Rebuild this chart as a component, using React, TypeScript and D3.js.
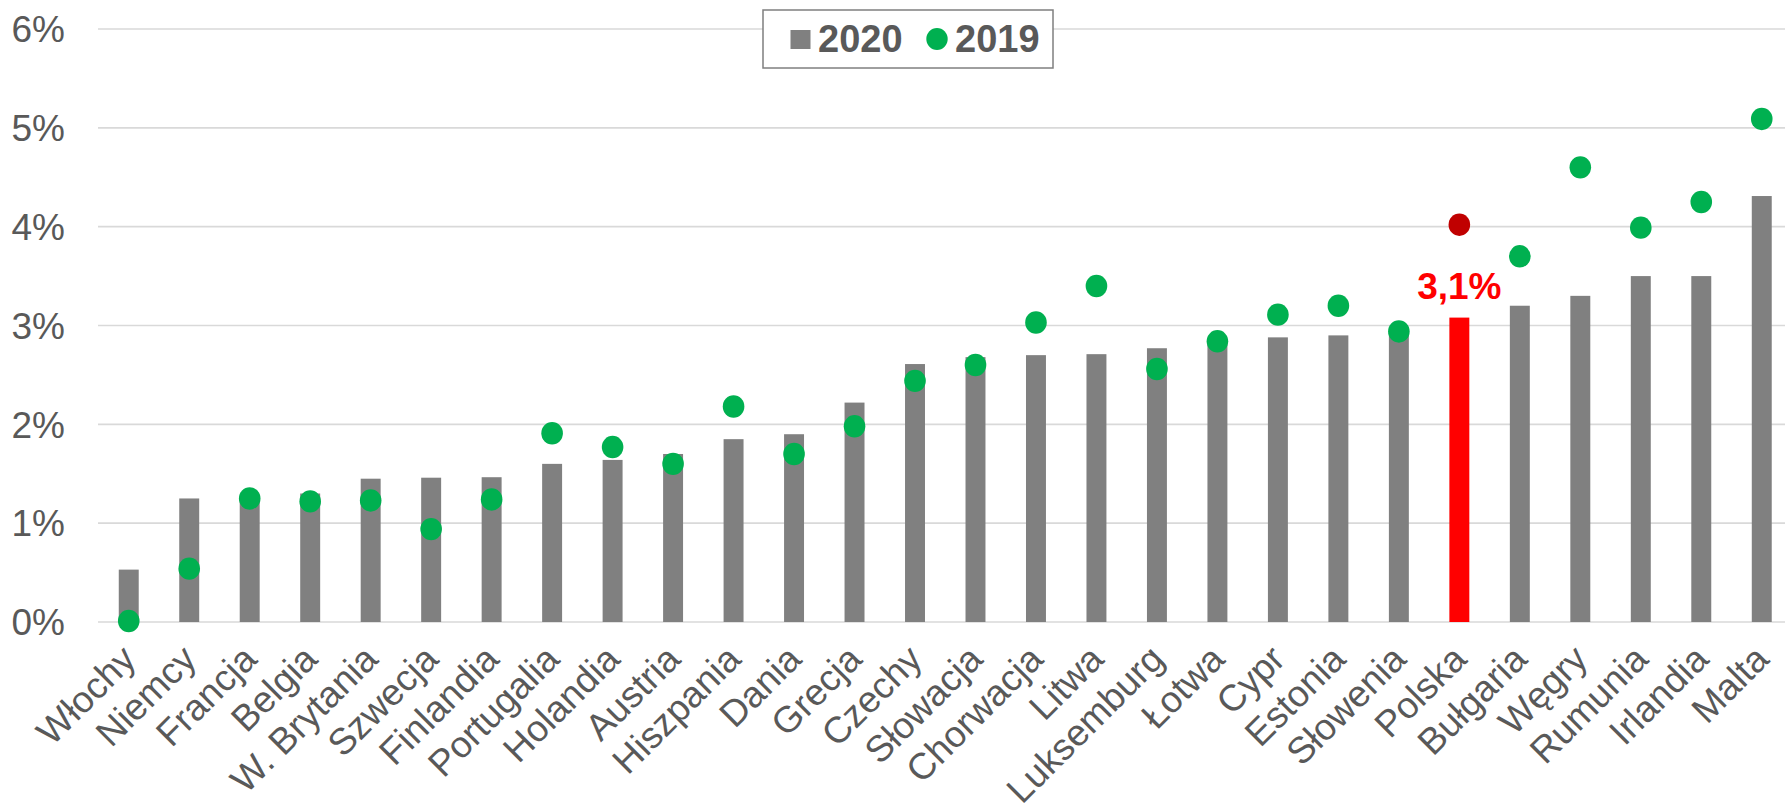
import React from 'react';
import * as d3 from 'd3';

const countries = [
  'Włochy', 'Niemcy', 'Francja', 'Belgia', 'W. Brytania', 'Szwecja', 'Finlandia',
  'Portugalia', 'Holandia', 'Austria', 'Hiszpania', 'Dania', 'Grecja', 'Czechy',
  'Słowacja', 'Chorwacja', 'Litwa', 'Luksemburg', 'Łotwa', 'Cypr', 'Estonia',
  'Słowenia', 'Polska', 'Bułgaria', 'Węgry', 'Rumunia', 'Irlandia', 'Malta',
];
const values2020 = [
  0.53, 1.25, 1.22, 1.3, 1.45, 1.46, 1.465, 1.6, 1.64, 1.7, 1.85, 1.9, 2.22, 2.61,
  2.68, 2.7, 2.71, 2.77, 2.85, 2.88, 2.9, 2.92, 3.08, 3.2, 3.3, 3.5, 3.5, 4.31,
];
const values2019 = [
  0.01, 0.54, 1.25, 1.22, 1.23, 0.94, 1.24, 1.91, 1.77, 1.6, 2.18, 1.7, 1.98, 2.44,
  2.6, 3.03, 3.4, 2.56, 2.84, 3.11, 3.2, 2.94, 4.02, 3.7, 4.6, 3.99, 4.25, 5.09,
];
const yTicks = [0, 1, 2, 3, 4, 5, 6];
const highlight = 'Polska';
const highlightLabel = '3,1%';

const W = 1785;
const H = 812;
const font = "'Liberation Sans', Arial, sans-serif";
const textColor = '#595959';

export default function App() {
  const x = d3.scaleBand<string>().domain(countries).range([98.5, 1792]).paddingInner(0.67).paddingOuter(0.335);
  const y = d3.scaleLinear().domain([0, 6]).range([622, 29]);
  const bw = x.bandwidth();
  const cx = (c: string) => (x(c) as number) + bw / 2;
  const hi = countries.indexOf(highlight);

  return (
    <>
      <style>{'body{margin:0}'}</style>
      <svg width={W} height={H} style={{ display: 'block', background: '#fff' }} fontFamily={font}>
        {/* gridlines + y labels */}
        {yTicks.map((t) => (
          <g key={t}>
            <line x1={98} x2={W} y1={y(t)} y2={y(t)} stroke="#d9d9d9" strokeWidth={1.6} />
            <text x={65} y={y(t)} dy="0.36em" textAnchor="end" fontSize={37} fill={textColor}>
              {t}%
            </text>
          </g>
        ))}

        {/* 2020 bars */}
        {countries.map((c, i) => (
          <rect
            key={c}
            x={x(c)}
            width={bw}
            y={y(values2020[i])}
            height={y(0) - y(values2020[i])}
            fill={i === hi ? '#ff0000' : '#808080'}
          />
        ))}

        {/* 2019 dots */}
        {countries.map((c, i) => (
          <ellipse
            key={c}
            cx={cx(c)}
            cy={y(values2019[i])}
            rx={10.8}
            ry={11.2}
            fill={i === hi ? '#c00000' : '#00b050'}
          />
        ))}

        {/* highlight label */}
        <text
          x={cx(highlight)}
          y={y(values2020[hi]) - 19}
          textAnchor="middle"
          fontSize={37}
          fontWeight="bold"
          fill="#ff0000"
        >
          {highlightLabel}
        </text>

        {/* x labels */}
        {countries.map((c) => (
          <text
            key={c}
            transform={`translate(${cx(c)},${y(0) + 30}) rotate(-45)`}
            textAnchor="end"
            dy="0.35em"
            fontSize={37}
            fill={textColor}
          >
            {c}
          </text>
        ))}

        {/* legend */}
        <g>
          <rect x={763} y={10} width={290} height={58} fill="#fff" stroke="#7f7f7f" strokeWidth={1.5} />
          <rect x={790.5} y={30} width={20} height={19} fill="#808080" />
          <text x={818} y={51.5} fontSize={38} fontWeight="bold" fill={textColor}>
            2020
          </text>
          <ellipse cx={937} cy={39} rx={10.7} ry={10.9} fill="#00b050" />
          <text x={955} y={51.5} fontSize={38} fontWeight="bold" fill={textColor}>
            2019
          </text>
        </g>
      </svg>
    </>
  );
}
